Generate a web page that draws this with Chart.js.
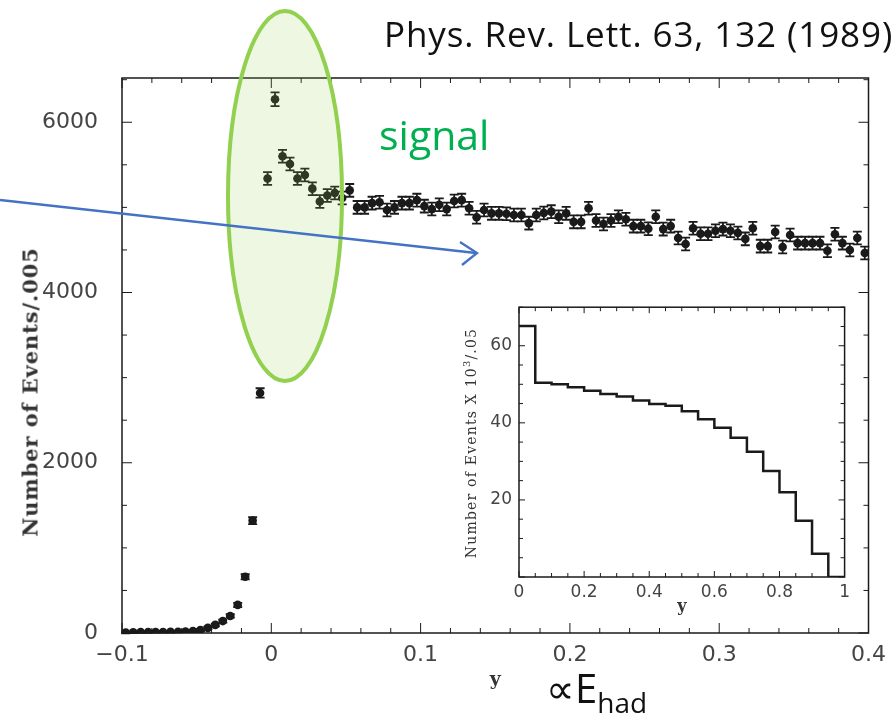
<!DOCTYPE html>
<html>
<head>
<meta charset="utf-8">
<script src="https://cdn.jsdelivr.net/npm/chart.js@4.4.1/dist/chart.umd.min.js"></script>
<style>
  body { margin: 0; background: #fff; }
  #wrap { position: relative; width: 895px; height: 725px; overflow: hidden; }
  #mainChart { position: absolute; left: 0; top: 0; }
  #insetChart { position: absolute; left: 455px; top: 290px; }
  .note { position: absolute; font-family: "Open Sans", "Noto Sans", sans-serif; white-space: nowrap; }
  .vtitle { position: absolute; transform: translate(-50%, -50%) rotate(-90deg); color: #333; white-space: nowrap; }
  #ytitle { left: 30px; top: 392px; font: bold 21px "DejaVu Serif", serif; letter-spacing: 0.9px; }
  #insetYtitle { left: 470px; top: 443px; font: 14px "DejaVu Serif", serif; letter-spacing: 1.2px; }
  #overlay { position: absolute; left: 0; top: 0; pointer-events: none; }
</style>
</head>
<body>
<div id="wrap">
  <canvas id="mainChart" width="895" height="725"></canvas>
  <canvas id="insetChart" width="400" height="330"></canvas>
  <div id="ytitle" class="vtitle">Number of Events/.005</div>
  <div id="insetYtitle" class="vtitle">Number of Events X 10<sup style="font-size:10px;">3</sup>/.05</div>
  <svg id="overlay" width="895" height="725">
    <ellipse cx="285" cy="196" rx="57" ry="185" fill="rgba(146,208,80,0.17)" stroke="#92d050" stroke-width="4"/>
    <line x1="0" y1="200" x2="476" y2="253" stroke="#4472c4" stroke-width="2.4"/>
    <polyline points="460,242 477,253 462,265" fill="none" stroke="#4472c4" stroke-width="2.4"/>
  </svg>
  <div class="note" style="left:384px; top:10px; font-size:35px; letter-spacing:0.9px; color:#111;">Phys. Rev. Lett. 63, 132 (1989)</div>
  <div class="note" style="left:379px; top:106px; font-size:41px; color:#00b050;">signal</div>
  <div class="note" style="left:546px; top:660px; font-size:40px; color:#111;">&prop;E<sub style="font-size:28px; vertical-align:-10px;">had</sub></div>
</div>

<script>
// main histogram: bins of 0.005 in y, starting at -0.1
const binStart = -0.1;
const binWidth = 0.005;
const counts = [
  5, 8, 10, 10, 12, 12, 14, 15, 18, 22,
  35, 60, 95, 140, 200, 330, 660, 1320, 2820, 5340,
  6270, 5600, 5510, 5340, 5380, 5220, 5070, 5140, 5170, 5110,
  5200, 5000, 5000, 5050, 5060, 4970, 5000, 5050, 5050, 5085,
  5015, 4980, 5030, 4980, 5075, 5085, 4990, 4885, 4970, 4930,
  4930, 4925, 4910, 4910, 4815, 4910, 4935, 4950, 4890, 4930,
  4830, 4830, 4990, 4845, 4805, 4845, 4890, 4860, 4780, 4780,
  4750, 4890, 4745, 4780, 4640, 4570, 4755, 4690, 4690, 4725,
  4745, 4725, 4700, 4630, 4755, 4545, 4545, 4710, 4535, 4675,
  4580, 4580, 4580, 4580, 4490, 4685, 4580, 4500, 4640, 4465
];
const errors = [
  8, 8, 8, 8, 8, 8, 8, 8, 8, 10,
  12, 14, 16, 18, 20, 25, 30, 40, 55, 75,
  80, 75, 75, 75, 75, 75, 75, 75, 75, 75,
  75, 75, 75, 75, 75, 75, 75, 75, 75, 75,
  75, 75, 75, 75, 75, 75, 75, 75, 75, 75,
  75, 75, 75, 75, 75, 75, 75, 75, 75, 75,
  75, 75, 75, 75, 75, 75, 75, 75, 75, 75,
  75, 75, 75, 75, 75, 75, 75, 75, 75, 75,
  75, 75, 75, 75, 75, 75, 75, 75, 75, 75,
  75, 75, 75, 75, 75, 75, 75, 75, 75, 75
];
const xTicks = [-0.1, 0, 0.1, 0.2, 0.3, 0.4];
const yTicks = [0, 2000, 4000, 6000];

// inset: full y range, bins of 0.05, in units of 10^3 events
const insetBinWidth = 0.05;
const insetCounts = [65.1, 50.4, 50.0, 49.2, 48.3, 47.5, 46.8, 45.8, 44.9, 44.4,
                     43.0, 40.9, 38.7, 36.1, 32.5, 27.5, 22.0, 14.6, 6.0, 0];
const insetXTicks = [0, 0.2, 0.4, 0.6, 0.8, 1];
const insetYTicks = [20, 40, 60];

const points = counts.map((c, i) => ({ x: binStart + binWidth * (i + 0.5), y: c, err: errors[i] }));
const steps = insetCounts.map((c, i) => ({ x: insetBinWidth * i, y: c }));
steps.push({ x: 1, y: 0 });

const ink = '#1a1a1a';

// frame box + inward ticks on all four sides
const frameTicks = {
  id: 'frameTicks',
  afterDraw(chart, args, o) {
    const { ctx, chartArea: a, scales: { x, y } } = chart;
    ctx.save();
    ctx.strokeStyle = ink;
    ctx.lineWidth = o.width;
    ctx.strokeRect(a.left, a.top, a.right - a.left, a.bottom - a.top);
    ctx.lineWidth = 1;
    const tick = (x1, y1, x2, y2) => { ctx.beginPath(); ctx.moveTo(x1, y1); ctx.lineTo(x2, y2); ctx.stroke(); };
    for (let v = x.min; v <= x.max + 1e-9; v += o.xMinor) {
      const p = x.getPixelForValue(v);
      const major = Math.abs(v / o.xMajor - Math.round(v / o.xMajor)) < 1e-6;
      const len = major ? o.major : o.minor;
      tick(p, a.bottom, p, a.bottom - len);
      tick(p, a.top, p, a.top + len);
    }
    for (let v = y.min; v <= y.max + 1e-9; v += o.yMinor) {
      const p = y.getPixelForValue(v);
      const major = Math.abs(v / o.yMajor - Math.round(v / o.yMajor)) < 1e-6;
      const len = major ? o.major : o.minor;
      tick(a.left, p, a.left + len, p);
      tick(a.right, p, a.right - len, p);
    }
    ctx.restore();
  }
};

// vertical error bars with caps
const errorBars = {
  id: 'errorBars',
  beforeDatasetsDraw(chart) {
    const { ctx, scales: { x, y } } = chart;
    const ds = chart.data.datasets[0];
    if (!ds.data[0] || ds.data[0].err === undefined) return;
    ctx.save();
    ctx.strokeStyle = ink;
    ctx.lineWidth = 1.8;
    ds.data.forEach(d => {
      const px = x.getPixelForValue(d.x);
      const hi = y.getPixelForValue(d.y + d.err);
      const lo = y.getPixelForValue(d.y - d.err);
      ctx.beginPath();
      ctx.moveTo(px, hi); ctx.lineTo(px, lo);
      ctx.moveTo(px - 4.5, hi); ctx.lineTo(px + 4.5, hi);
      ctx.moveTo(px - 4.5, lo); ctx.lineTo(px + 4.5, lo);
      ctx.stroke();
    });
    ctx.restore();
  }
};

const tickFont = { family: 'DejaVu Sans', size: 22 };
const insetTickFont = { family: 'DejaVu Sans', size: 17 };

new Chart('mainChart', {
  type: 'scatter',
  data: {
    datasets: [{
      data: points,
      pointRadius: 4.3,
      pointHoverRadius: 4.3,
      backgroundColor: ink,
      borderWidth: 0
    }]
  },
  options: {
    responsive: false,
    animation: false,
    devicePixelRatio: 1,
    layout: { padding: { left: 0, right: 21, top: 78, bottom: 0 } },
    plugins: {
      legend: { display: false },
      tooltip: { enabled: false },
      frameTicks: { width: 1.5, xMinor: 0.02, xMajor: 0.1, yMinor: 500, yMajor: 2000, major: 10, minor: 5 }
    },
    scales: {
      x: {
        type: 'linear',
        min: -0.1, max: 0.4,
        grid: { display: false, drawTicks: false },
        border: { display: false },
        afterFit: s => { s.height = 92; },
        afterBuildTicks: s => { s.ticks = xTicks.map(v => ({ value: v })); },
        ticks: {
          autoSkip: false, maxRotation: 0, padding: 9,
          color: '#444', font: tickFont,
          callback: v => v < 0 ? '\u22120.1' : (v === 0 ? '0' : String(v))
        },
        title: { display: true, text: 'y', color: '#333', font: { family: 'DejaVu Serif', size: 19, weight: 'bold' }, padding: { bottom: 34 } }
      },
      y: {
        min: 0, max: 6520,
        grid: { display: false, drawTicks: false },
        border: { display: false },
        afterFit: s => { s.width = 122; },
        afterBuildTicks: s => { s.ticks = yTicks.map(v => ({ value: v })); },
        ticks: { padding: 24, color: '#444', font: tickFont, callback: v => String(v) }
      }
    }
  },
  plugins: [errorBars, frameTicks]
});

new Chart('insetChart', {
  type: 'line',
  data: {
    datasets: [{
      data: steps,
      stepped: 'before',
      borderColor: ink,
      borderWidth: 2.5,
      pointRadius: 0,
      fill: false
    }]
  },
  options: {
    responsive: false,
    animation: false,
    devicePixelRatio: 1,
    layout: { padding: { left: 0, right: 5, top: 13, bottom: 0 } },
    plugins: {
      legend: { display: false },
      tooltip: { enabled: false },
      frameTicks: { width: 1.5, xMinor: 0.05, xMajor: 0.2, yMinor: 5, yMajor: 20, major: 6, minor: 4 }
    },
    scales: {
      x: {
        type: 'linear',
        min: 0, max: 1,
        grid: { display: false, drawTicks: false },
        border: { display: false },
        afterFit: s => { s.height = 43; },
        afterBuildTicks: s => { s.ticks = insetXTicks.map(v => ({ value: v })); },
        ticks: { autoSkip: false, maxRotation: 0, padding: 5, color: '#444', font: insetTickFont, callback: v => String(v) },
        title: { display: true, text: 'y', color: '#333', font: { family: 'DejaVu Serif', size: 16, weight: 'bold' }, padding: { bottom: 4 } }
      },
      y: {
        min: 0, max: 70,
        grid: { display: false, drawTicks: false },
        border: { display: false },
        afterFit: s => { s.width = 64; },
        afterBuildTicks: s => { s.ticks = insetYTicks.map(v => ({ value: v })); },
        ticks: { padding: 7, color: '#444', font: insetTickFont }
      }
    }
  },
  plugins: [frameTicks]
});
</script>
</body>
</html>
